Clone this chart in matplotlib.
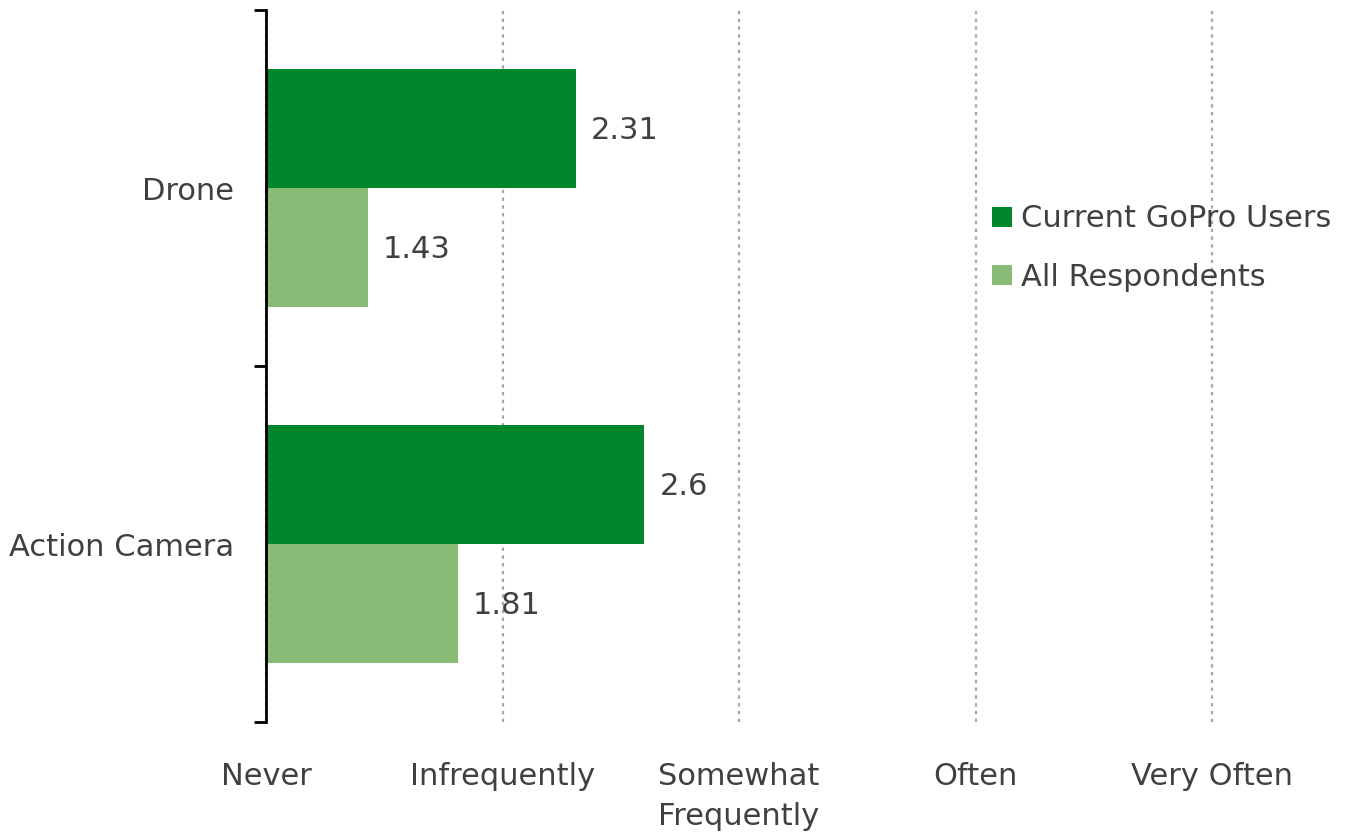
import matplotlib
matplotlib.use("Agg")
import matplotlib.pyplot as plt
from matplotlib.patches import Patch

# Data
categories = ["Action Camera", "Drone"]
current_users = [2.6, 2.31]
all_respondents = [1.81, 1.43]
series_names = ["Current GoPro Users", "All Respondents"]
scale_labels = ["Never", "Infrequently", "Somewhat\nFrequently", "Often", "Very Often"]
scale_values = [1, 2, 3, 4, 5]

DARK = "#00862B"
LIGHT = "#89BB77"
TEXT = "#404040"
FS = 22

plt.rcParams["font.family"] = ["DejaVu Sans"]

fig = plt.figure(figsize=(13.48, 8.33), dpi=100)
ax = fig.add_axes([266 / 1348, 1 - 722 / 833, (1212 - 266) / 1348, 712 / 833])

h = 0.334
ypos = list(range(len(categories)))
base = scale_values[0]
for y, cur, allr in zip(ypos, current_users, all_respondents):
    ax.barh(y + h / 2, cur - base, height=h, left=base, color=DARK, zorder=3)
    ax.barh(y - h / 2, allr - base, height=h, left=base, color=LIGHT, zorder=3)
    ax.annotate(f"{cur:g}", (cur, y + h / 2), xytext=(15, -2), textcoords="offset pixels",
                va="center", ha="left", fontsize=FS, color=TEXT)
    ax.annotate(f"{allr:g}", (allr, y - h / 2), xytext=(15, -2), textcoords="offset pixels",
                va="center", ha="left", fontsize=FS, color=TEXT)

ax.set_xlim(scale_values[0], scale_values[-1])
ax.set_ylim(-0.5, len(categories) - 0.5)

# x axis: dotted gridlines, labels without ticks
ax.set_xticks(scale_values)
ax.set_xticklabels(scale_labels, fontsize=FS, color=TEXT, va="top", linespacing=1.45)
ax.tick_params(axis="x", length=0, pad=29)
ax.grid(axis="x", color="#A6A6A6", linestyle=(0, (1.5, 2.0)), linewidth=1.6, zorder=0)
for gl in ax.get_xgridlines():
    gl.set_clip_on(False)

# y axis: boundary ticks on spine, category labels between them
ax.set_yticks([-0.5 + i for i in range(len(categories) + 1)])
ax.set_yticklabels([])
ax.tick_params(axis="y", which="major", length=9, width=2, color="black", direction="out")
ax.set_yticks(ypos, minor=True)
ax.set_yticklabels(categories, minor=True, fontsize=FS, color=TEXT)
ax.tick_params(axis="y", which="minor", length=0, pad=23)

for s in ["top", "right", "bottom"]:
    ax.spines[s].set_visible(False)
ax.spines["left"].set_linewidth(2)
ax.spines["left"].set_color("black")
ax.spines["left"].set_zorder(4)

handles = [Patch(facecolor=DARK, edgecolor="none"), Patch(facecolor=LIGHT, edgecolor="none")]
fig.legend(handles, series_names, loc="center left", bbox_to_anchor=(992 / 1348, 1 - 248 / 833),
           frameon=False, fontsize=FS, labelcolor=TEXT, handlelength=0.65, handleheight=0.65,
           handletextpad=0.3, labelspacing=0.95, borderpad=0, borderaxespad=0)

fig.savefig("out.png", dpi=100, facecolor="white")
